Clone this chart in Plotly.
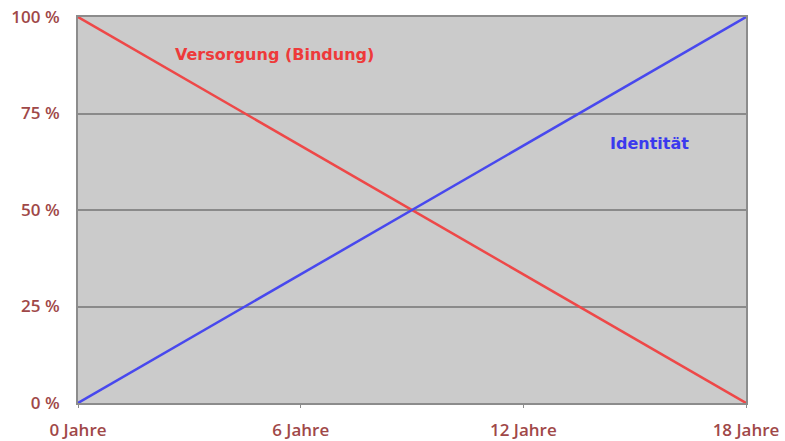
import plotly.graph_objects as go

ages = [0, 18]
versorgung = [100, 0]
identitaet = [0, 100]
x_ticks = [0, 6, 12, 18]
x_labels = ["0 Jahre", "6 Jahre", "12 Jahre", "18 Jahre"]
y_ticks = [0, 25, 50, 75, 100]
y_labels = ["0 %", "25 %", "50 %", "75 %", "100 %"]

label_color = "#a04848"
fig = go.Figure()
fig.add_trace(go.Scatter(x=ages, y=versorgung, mode="lines",
                         line=dict(color="#ee4848", width=2.5), name="Versorgung (Bindung)"))
fig.add_trace(go.Scatter(x=ages, y=identitaet, mode="lines",
                         line=dict(color="#4848ee", width=2.5), name="Identität"))

fig.add_annotation(x=5.3, y=90.3, text="<b>Versorgung (Bindung)</b>", showarrow=False,
                   font=dict(color="#ee3a3a", size=16, family="DejaVu Sans"))
fig.add_annotation(x=15.4, y=67.2, text="<b>Identität</b>", showarrow=False,
                   font=dict(color="#3a3aee", size=16, family="DejaVu Sans"))

tick_font = dict(color=label_color, size=17, family="Open Sans", weight=600)
fig.update_layout(
    width=785, height=441,
    margin=dict(l=78, r=39, t=17, b=38),
    paper_bgcolor="white", plot_bgcolor="#cbcbcb",
    showlegend=False,
    font=dict(family="Open Sans", color=label_color, size=17),
)
fig.update_xaxes(range=[0, 18], tickvals=x_ticks, ticktext=x_labels, automargin=False,
                 showgrid=False, zeroline=False, showline=True, linecolor="#8c8c8c",
                 linewidth=2, mirror=True, ticks="outside", ticklen=3, tickcolor="#8c8c8c",
                 ticklabelstandoff=8, tickfont=tick_font)
fig.update_yaxes(range=[0, 100], tickvals=y_ticks, ticktext=y_labels, automargin=False,
                 showgrid=True, gridcolor="#8a8a8a", gridwidth=2, zeroline=False,
                 showline=True, linecolor="#8c8c8c", linewidth=2, mirror=True,
                 ticks="", ticklabelstandoff=13, tickfont=tick_font)

fig.write_html("out.html")
